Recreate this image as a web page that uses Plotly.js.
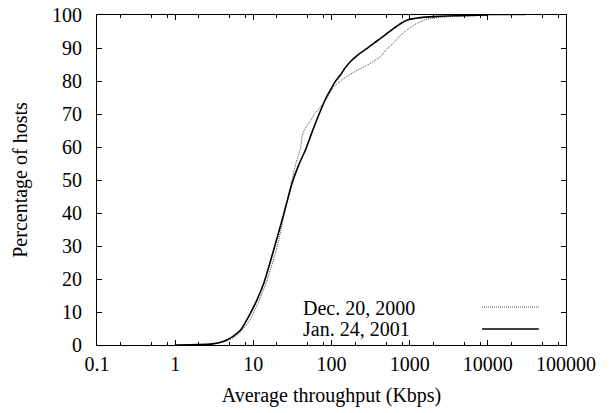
<!DOCTYPE html>
<html>
<head>
<meta charset="utf-8">
<script src="https://cdn.plot.ly/plotly-3.0.1.min.js"></script>
<style>html,body{margin:0;padding:0;background:#fff;}#chart{width:616px;height:413px;}</style>
</head>
<body>
<div id="chart"></div>
<script>
// Dec. 20, 2000 (dotted)
var decX = [1, 2, 3, 4, 5, 6, 7, 9, 11.9, 14.5, 19.7, 24.5, 30.5, 35, 40, 42.8, 48, 53.8, 60.5, 70, 80.7, 95, 107, 125, 144, 200, 286, 360, 425, 518, 640, 767, 950, 1135, 1690, 2500, 4500, 9900, 30000];
var decY = [0, 0.1, 0.3, 0.8, 1.6, 2.8, 4.2, 7.5, 13.6, 18.7, 28.8, 38.9, 49, 55, 59.5, 64, 66.2, 68, 70, 71.8, 73.5, 76.2, 78.3, 79.7, 80.8, 82.9, 84.8, 86.3, 87.4, 89.9, 91.8, 93.9, 95.7, 97, 98.8, 99.3, 99.7, 99.9, 100];
// Jan. 24, 2001 (solid)
var janX = [1, 2, 3, 4, 5, 6, 7, 8.7, 11.1, 13.6, 18.2, 24, 31.3, 38, 46.4, 57, 69.5, 85.7, 97, 110, 130, 150, 175, 220, 286, 350, 425, 520, 631, 780, 935, 1380, 2000, 3000, 4500, 10000];
var janY = [0, 0.1, 0.35, 1.0, 2.0, 3.3, 4.8, 8.6, 13.6, 18.7, 28.8, 38.9, 49, 54.5, 59.1, 64.8, 70, 75, 77.3, 79.6, 81.8, 84, 85.9, 88, 89.9, 91.5, 92.9, 94.5, 96, 97.5, 98.5, 99.2, 99.5, 99.7, 99.8, 100];

var seriesNames = ["Dec. 20, 2000", "Jan. 24, 2001"];
var xTickVals = [0.1, 1, 10, 100, 1000, 10000, 100000];
var xTickText = ["0.1", "1", "10", "100", "1000", "10000", "100000"];
var yTickVals = [0, 10, 20, 30, 40, 50, 60, 70, 80, 90, 100];

var minorVals = [];
for (var d = -1; d < 5; d++) {
  [2, 5, 8].forEach(function (m) { minorVals.push(m * Math.pow(10, d)); });
}

var FONT = "Liberation Serif";
var fs = 20;
var DOTS = "1px,1px";

var traces = [
  {x: decX, y: decY, mode: "lines", name: seriesNames[0],
   line: {color: "#444", width: 1, dash: DOTS, shape: "spline", smoothing: 0.6}, showlegend: false},
  {x: janX, y: janY, mode: "lines", name: seriesNames[1],
   line: {color: "#000", width: 1.6, shape: "spline", smoothing: 0.6}, showlegend: false}
];

var layout = {
  width: 616, height: 413,
  margin: {l: 97, r: 50, t: 15, b: 68},
  paper_bgcolor: "#fff", plot_bgcolor: "#fff",
  font: {family: FONT, size: fs, color: "#000"},
  xaxis: {
    type: "log", range: [-1, 5], showgrid: false, zeroline: false,
    showline: true, linecolor: "#000", linewidth: 1, mirror: "allticks",
    ticks: "inside", ticklen: 5, tickcolor: "#000", tickwidth: 1,
    tickmode: "array", tickvals: xTickVals, ticktext: xTickText,
    ticklabelstandoff: 1,
    tickfont: {family: FONT, size: fs},
    minor: {ticks: "inside", ticklen: 3, tickcolor: "#000", tickwidth: 1, tickmode: "array", tickvals: minorVals, showgrid: false},
    title: {text: "Average throughput (Kbps)", font: {family: FONT, size: fs}, standoff: 13}
  },
  yaxis: {
    range: [0, 100], showgrid: false, zeroline: false,
    showline: true, linecolor: "#000", linewidth: 1, mirror: "allticks",
    ticks: "inside", ticklen: 5, tickcolor: "#000", tickwidth: 1,
    tickmode: "array", tickvals: yTickVals,
    ticklabelstandoff: 10,
    tickfont: {family: FONT, size: fs},
    title: {text: "Percentage of hosts", font: {family: FONT, size: fs}, standoff: 19}
  },
  annotations: [
    {xref: "paper", yref: "paper", x: 0.435, y: 0.112, xanchor: "left", yanchor: "middle",
     text: seriesNames[0], showarrow: false, font: {family: FONT, size: fs}},
    {xref: "paper", yref: "paper", x: 0.435, y: 0.05, xanchor: "left", yanchor: "middle",
     text: seriesNames[1], showarrow: false, font: {family: FONT, size: fs}}
  ],
  shapes: [
    {type: "line", xref: "paper", yref: "paper", x0: 0.821, x1: 0.942, y0: 0.115, y1: 0.115,
     line: {color: "#444", width: 1, dash: DOTS}},
    {type: "line", xref: "paper", yref: "paper", x0: 0.821, x1: 0.942, y0: 0.0485, y1: 0.0485,
     line: {color: "#000", width: 1.6}}
  ]
};

Plotly.newPlot("chart", traces, layout, {displayModeBar: false, staticPlot: true});
</script>
</body>
</html>
